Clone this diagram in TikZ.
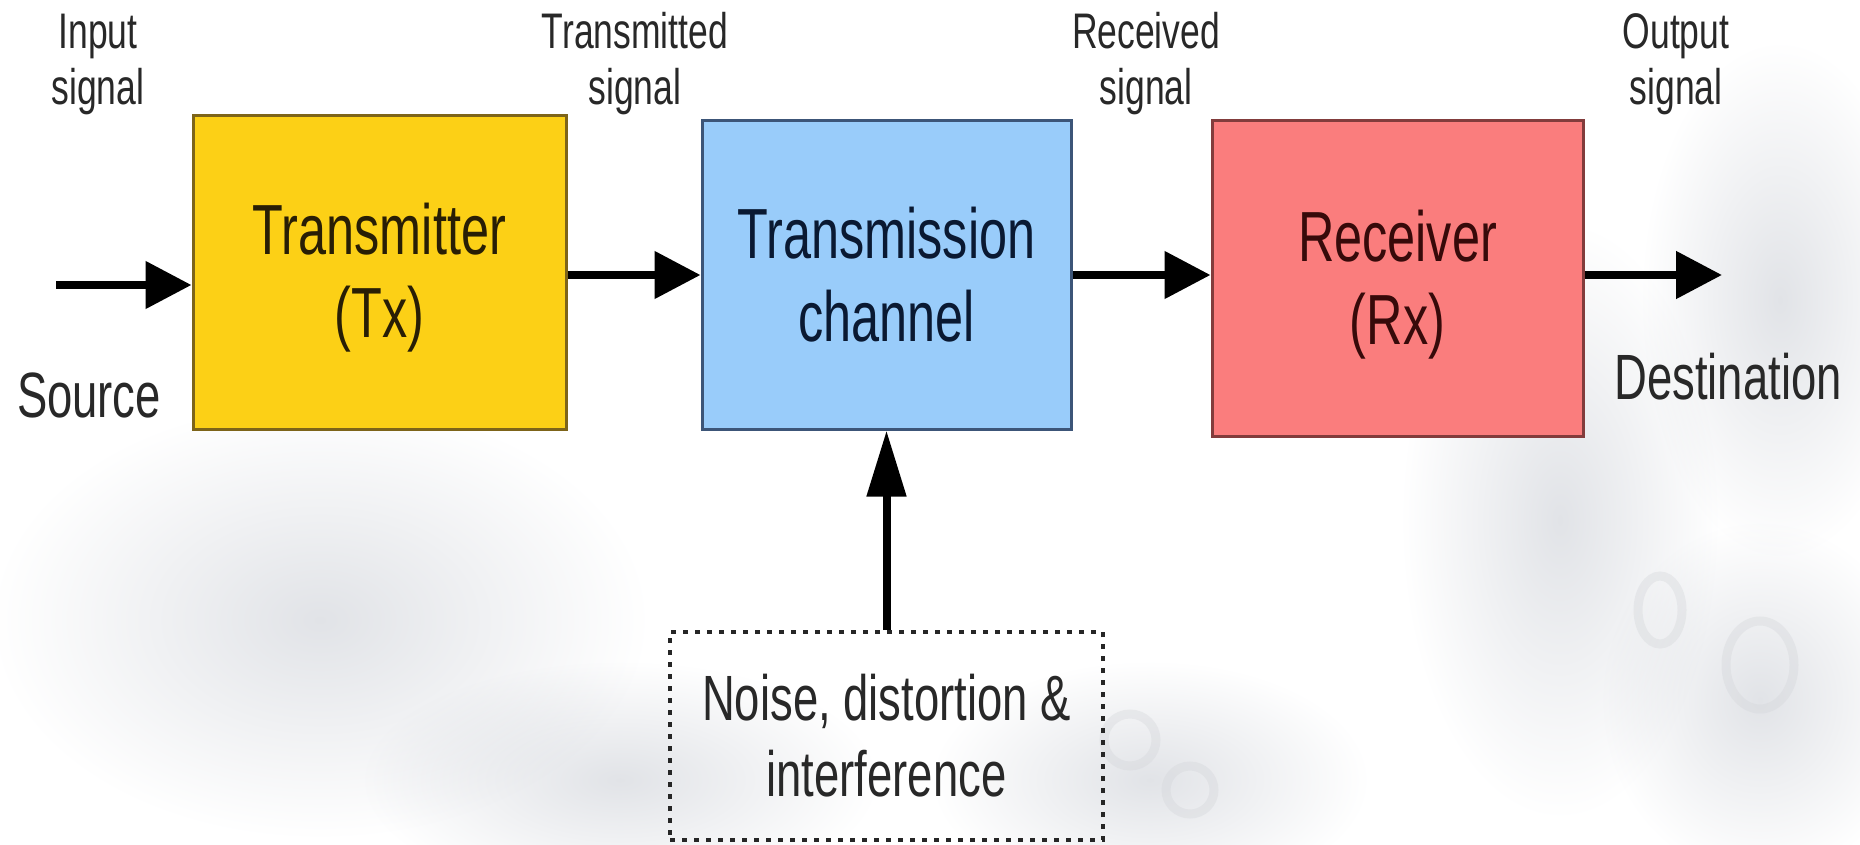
\documentclass[tikz,border=0pt]{standalone}
\usepackage{fontspec}
\setmainfont{Liberation Sans}[FakeStretch=0.71]
\usetikzlibrary{arrows.meta,calc}

\definecolor{txfill}{RGB}{252,208,22}
\definecolor{txline}{RGB}{125,100,25}
\definecolor{txink}{RGB}{40,30,5}
\definecolor{chfill}{RGB}{153,204,250}
\definecolor{chline}{RGB}{60,85,120}
\definecolor{chink}{RGB}{10,25,50}
\definecolor{rxfill}{RGB}{250,125,125}
\definecolor{rxline}{RGB}{130,60,60}
\definecolor{rxink}{RGB}{55,10,10}
\definecolor{labink}{RGB}{40,40,40}
\definecolor{haze}{RGB}{225,227,231}
\definecolor{ringc}{RGB}{210,212,216}

\tikzset{
  block/.style={draw, line width=3pt, align=center,
    font=\fontsize{71}{83}\selectfont},
  sig/.style={align=center, text=labink, font=\fontsize{50}{56}\selectfont},
  endlabel/.style={align=center, text=labink, font=\fontsize{64}{76}\selectfont},
  flow/.style={line width=8pt, -{Triangle[length=46pt,width=46pt]}},
  rise/.style={line width=8pt, -{Triangle[length=66pt,width=38pt]}},
  noisebox/.style={draw=black!85, line width=4pt, dash pattern=on 5pt off 7pt,
    align=center, text=labink, font=\fontsize{64}{76}\selectfont},
  blob/.style={inner color=haze, outer color=white},
}

\begin{document}
\begin{tikzpicture}[x=1pt,y=-1pt]
  \useasboundingbox (0,0) rectangle (1860,845);
  \fill[white] (0,0) rectangle (1860,845);

  % faint circuit-board backdrop
  \begin{scope}[blend mode=multiply]
    \shade[blob] (320,620) ellipse (330 and 220);
    \shade[blob] (620,780) ellipse (260 and 120);
    \shade[blob] (1150,780) ellipse (220 and 120);
    \shade[blob] (1560,520) ellipse (160 and 300);
    \shade[blob] (1780,300) ellipse (140 and 260);
    \shade[blob] (1760,700) ellipse (160 and 180);
  \end{scope}
  \begin{scope}[draw=ringc, opacity=0.35, line width=9pt]
    \draw (1760,665) ellipse (34 and 44);
    \draw (1660,610) ellipse (22 and 34);
    \draw (1130,740) circle (26);
    \draw (1190,790) circle (24);
  \end{scope}

  % processing blocks
  \node[block, fill=txfill, draw=txline, text=txink,
        minimum width=373pt, minimum height=313pt] (tx) at (379.5,272.5)
        {\rule{0pt}{62pt}Transmitter\\(Tx)};
  \node[block, fill=chfill, draw=chline, text=chink,
        minimum width=369pt, minimum height=308pt] (ch) at (886.5,275)
        {Transmission\\channel};
  \node[block, fill=rxfill, draw=rxline, text=rxink,
        minimum width=371pt, minimum height=315pt] (rx) at (1397.5,278.5)
        {\rule{0pt}{64pt}Receiver\\(Rx)};

  % disturbance source
  \node[noisebox, minimum width=433pt, minimum height=208pt] (noise)
        at (886.5,736) {Noise, distortion \&\\interference};

  % signal labels
  \node[sig] (lin)  at (98,64)   {Input\\signal};
  \node[sig] (ltx)  at (635,64)  {Transmitted\\signal};
  \node[sig] (lrx)  at (1146,64) {Received\\signal};
  \node[sig] (lout) at (1676,64) {Output\\signal};
  \node[endlabel] (src) at (89,395)   {Source};
  \node[endlabel] (dst) at (1728,377) {Destination};

  % signal path
  \coordinate (srcin) at (56,285);
  \coordinate (dstout) at (1722,275);
  \draw[flow] (srcin) -- (srcin -| tx.west);
  \draw[flow] (tx.east |- 0,275) -- (ch.west |- 0,275);
  \draw[flow] (ch.east |- 0,275) -- (rx.west |- 0,275);
  \draw[flow] (rx.east |- dstout) -- (dstout);
  \draw[rise] (noise.north) -- (ch.south);
\end{tikzpicture}
\end{document}
